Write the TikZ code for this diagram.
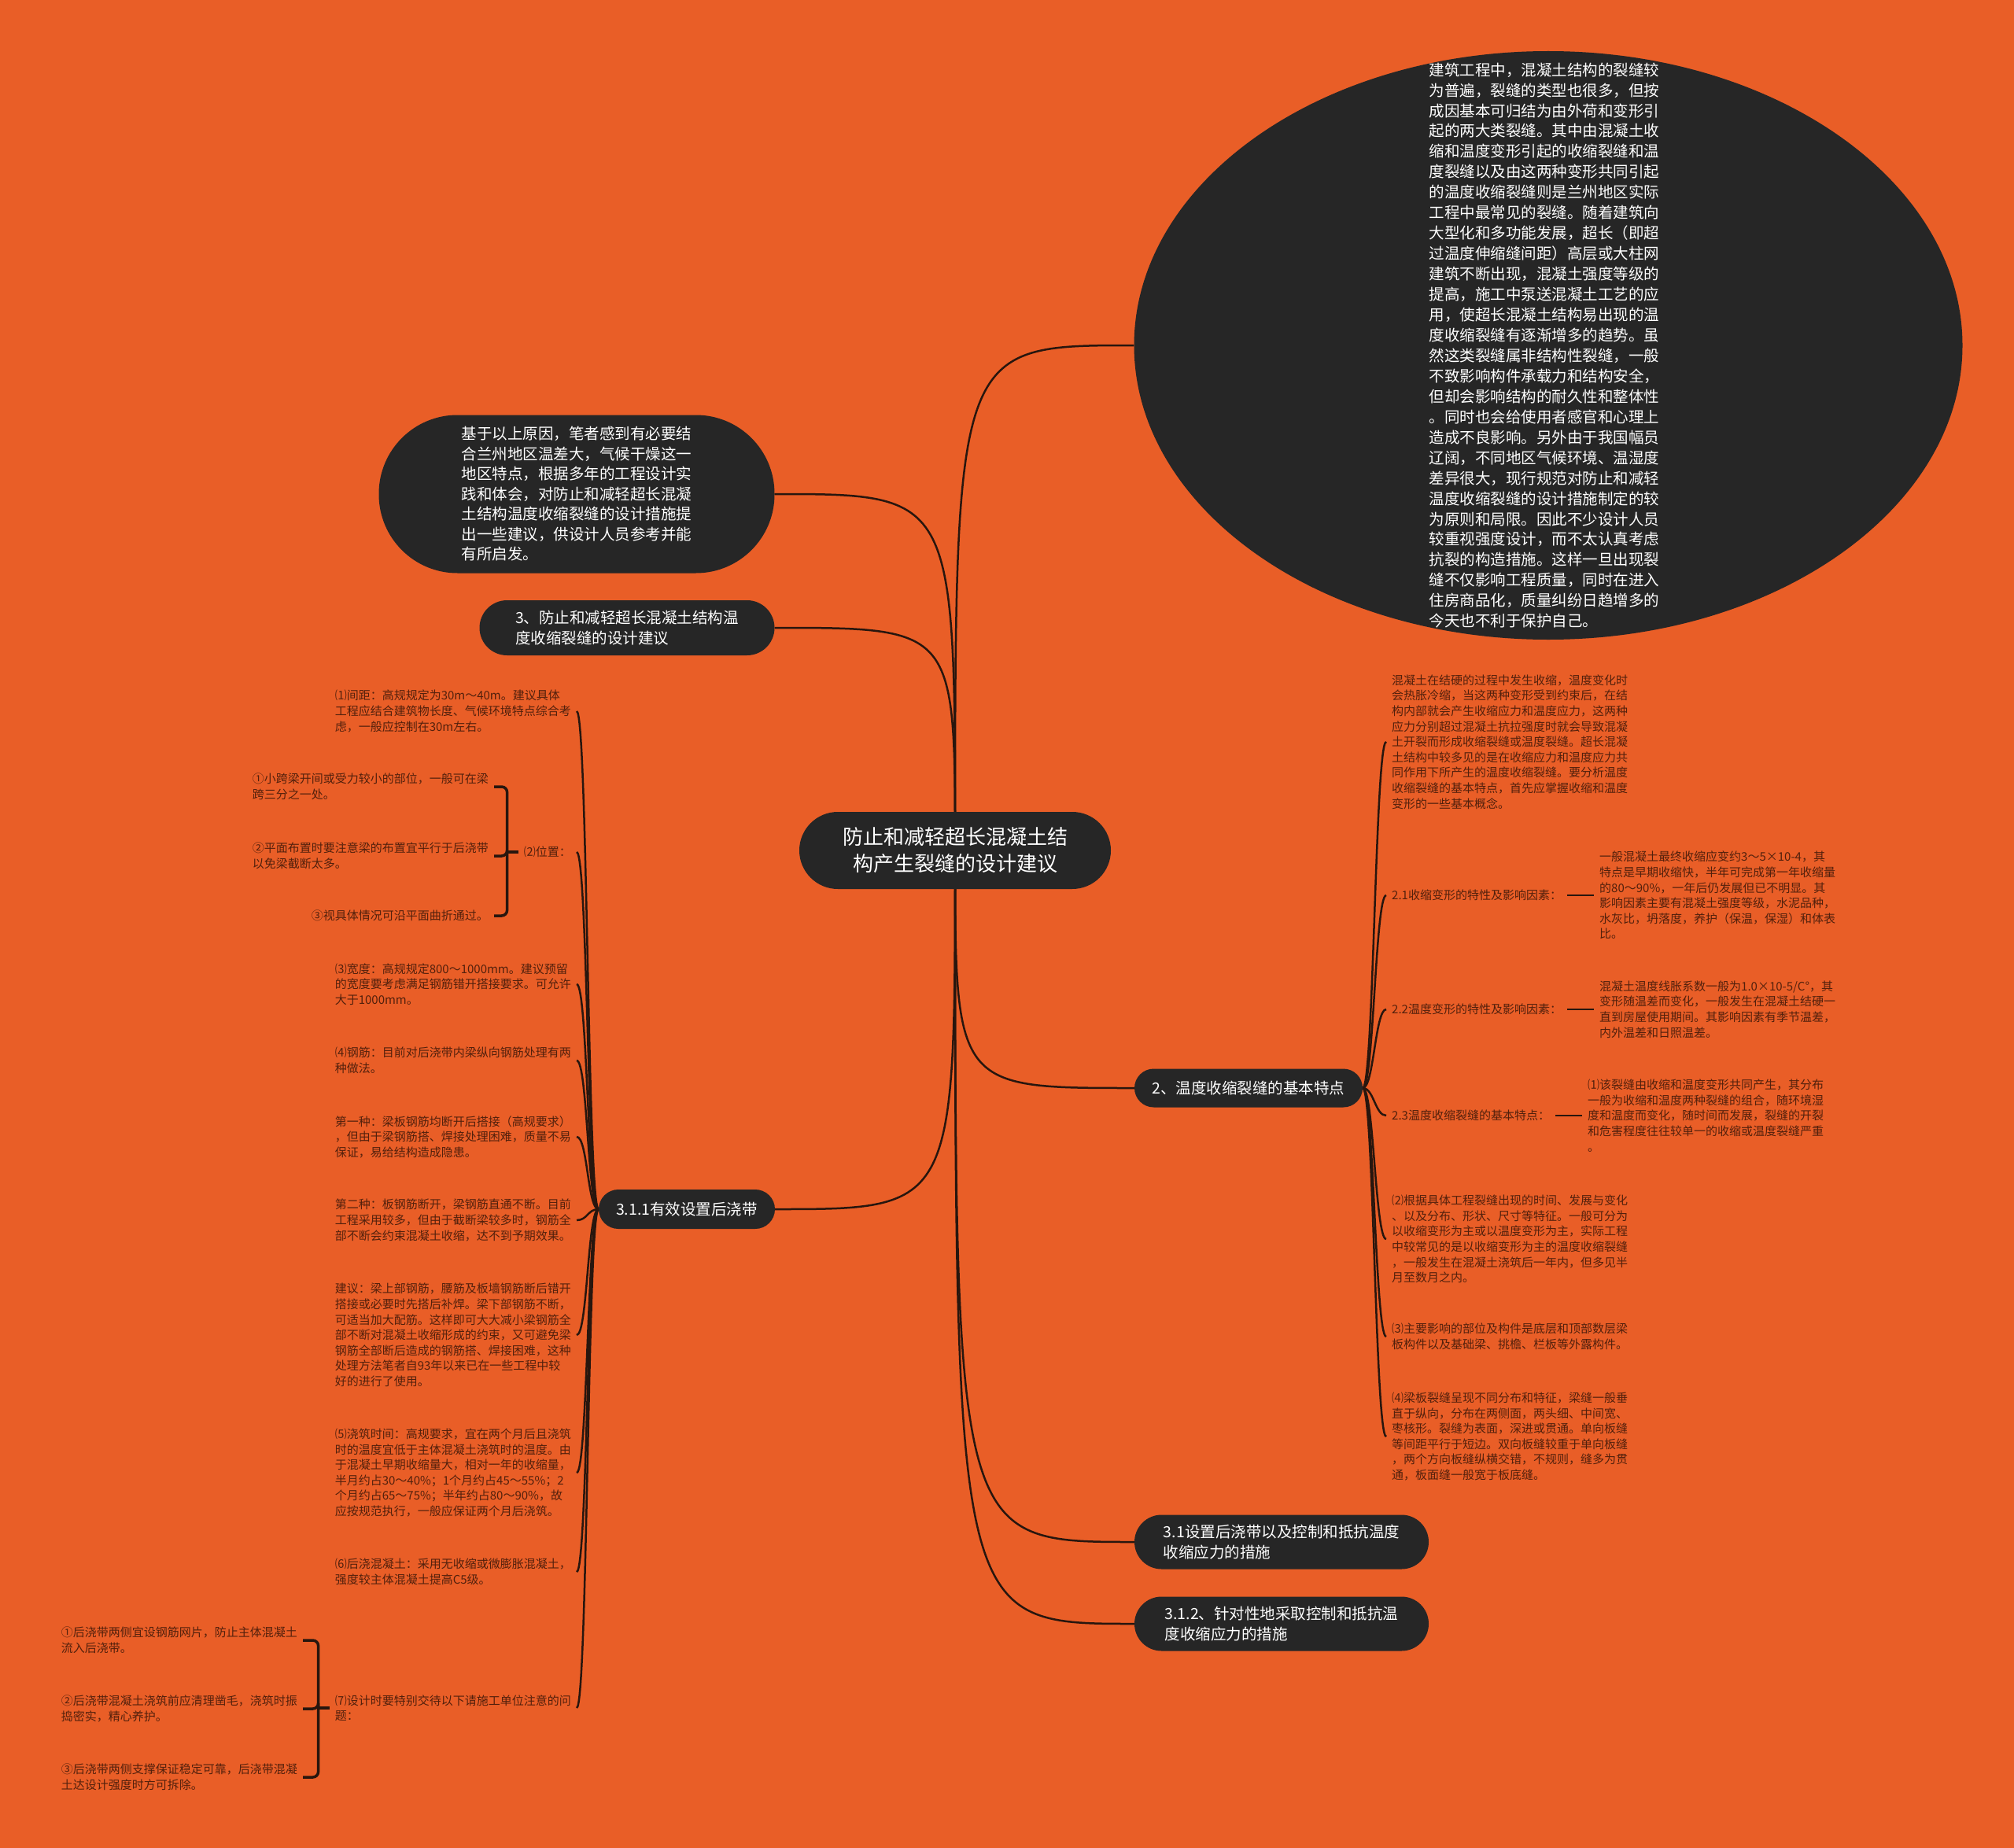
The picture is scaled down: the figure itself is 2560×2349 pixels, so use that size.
\documentclass[tikz,border=0pt]{standalone}
\usepackage{fontspec}
\setmainfont{Noto Sans CJK SC}
\usetikzlibrary{shapes.geometric,calc}
\definecolor{bgorange}{RGB}{233,94,39}
\definecolor{nodedark}{RGB}{38,38,38}
\definecolor{linedark}{RGB}{40,22,14}
\definecolor{txtbrown}{RGB}{82,32,12}
\pgfdeclarelayer{back}
\pgfdeclarelayer{links}
\pgfsetlayers{back,links,main}
\tikzset{
  pill/.style={fill=nodedark, text=white, font=\fontsize{19.5}{25.5}\selectfont, align=left, inner sep=0pt},
  pilltext/.style={text=white, font=\fontsize{19.5}{25.95}\selectfont, align=left, inner sep=0pt},
  central/.style={fill=nodedark, text=white, font=\fontsize{26}{34}\selectfont, align=center, inner sep=0pt, minimum width=396, minimum height=98, rounded corners=49},
  note/.style={text=txtbrown, font=\fontsize{15}{19.6}\selectfont, align=left, inner xsep=7pt, inner ysep=0pt},
  link/.style={draw=linedark, line width=2.5pt},
  brace/.style={draw=linedark, line width=3.5pt, rounded corners=7pt},
}
\begin{document}
\begin{tikzpicture}[x=1pt,y=-1pt]
\begin{pgfonlayer}{back}
\fill[bgorange] (0,0) rectangle (2560,2349);
\end{pgfonlayer}
\useasboundingbox (0,0) rectangle (2560,2349);

% central
\node[central] (root) at (1214,1081) {防止和减轻超长混凝土结\\构产生裂缝的设计建议};

% big ellipse
\node[ellipse, fill=nodedark, minimum width=1053, minimum height=748, inner sep=0pt] (intro) at (1968,439) {};
\node[pilltext] (introtext) at (1963,439) {建筑工程中，混凝土结构的裂缝较\\为普遍，裂缝的类型也很多，但按\\成因基本可归结为由外荷和变形引\\起的两大类裂缝。其中由混凝土收\\缩和温度变形引起的收缩裂缝和温\\度裂缝以及由这两种变形共同引起\\的温度收缩裂缝则是兰州地区实际\\工程中最常见的裂缝。随着建筑向\\大型化和多功能发展，超长（即超\\过温度伸缩缝间距）高层或大柱网\\建筑不断出现，混凝土强度等级的\\提高，施工中泵送混凝土工艺的应\\用，使超长混凝土结构易出现的温\\度收缩裂缝有逐渐增多的趋势。虽\\然这类裂缝属非结构性裂缝，一般\\不致影响构件承载力和结构安全，\\但却会影响结构的耐久性和整体性\\。同时也会给使用者感官和心理上\\造成不良影响。另外由于我国幅员\\辽阔，不同地区气候环境、温湿度\\差异很大，现行规范对防止和减轻\\温度收缩裂缝的设计措施制定的较\\为原则和局限。因此不少设计人员\\较重视强度设计，而不太认真考虑\\抗裂的构造措施。这样一旦出现裂\\缝不仅影响工程质量，同时在进入\\住房商品化，质量纠纷日趋增多的\\今天也不利于保护自己。};

% left pills
\node[pill, minimum width=503, minimum height=201, rounded corners=100] (reason) at (733,628) {基于以上原因，笔者感到有必要结\\合兰州地区温差大，气候干燥这一\\地区特点，根据多年的工程设计实\\践和体会，对防止和减轻超长混凝\\土结构温度收缩裂缝的设计措施提\\出一些建议，供设计人员参考并能\\有所启发。};
\node[pill, minimum width=375, minimum height=70, rounded corners=35] (sec3) at (797,798) {3、防止和减轻超长混凝土结构温\\度收缩裂缝的设计建议};
\node[pill, minimum width=224, minimum height=50, rounded corners=25] (s311) at (873,1537) {3.1.1有效设置后浇带};

% right pills
\node[pill, minimum width=290, minimum height=49, rounded corners=24.5] (s2) at (1587,1383) {2、温度收缩裂缝的基本特点};
\node[pill, minimum width=374, minimum height=69, rounded corners=34.5] (s31) at (1629,1960) {3.1设置后浇带以及控制和抵抗温度\\收缩应力的措施};
\node[pill, minimum width=374, minimum height=69, rounded corners=34.5] (s312) at (1629,2064) {3.1.2、针对性地采取控制和抵抗温\\度收缩应力的措施};

% right notes
\node[note, anchor=west] (n20) at (1762,943) {混凝土在结硬的过程中发生收缩，温度变化时\\会热胀冷缩，当这两种变形受到约束后，在结\\构内部就会产生收缩应力和温度应力，这两种\\应力分别超过混凝土抗拉强度时就会导致混凝\\土开裂而形成收缩裂缝或温度裂缝。超长混凝\\土结构中较多见的是在收缩应力和温度应力共\\同作用下所产生的温度收缩裂缝。要分析温度\\收缩裂缝的基本特点，首先应掌握收缩和温度\\变形的一些基本概念。};
\node[note, anchor=west] (n21) at (1762,1138) {2.1收缩变形的特性及影响因素：};
\node[note, anchor=west] (n21d) at (2026,1138) {一般混凝土最终收缩应变约3～5×10-4，其\\特点是早期收缩快，半年可完成第一年收缩量\\的80～90\%，一年后仍发展但已不明显。其\\影响因素主要有混凝土强度等级，水泥品种，\\水灰比，坍落度，养护（保温，保湿）和体表\\比。};
\node[note, anchor=west] (n22) at (1762,1283) {2.2温度变形的特性及影响因素：};
\node[note, anchor=west] (n22d) at (2026,1283) {混凝土温度线胀系数一般为1.0×10-5/C°，其\\变形随温差而变化，一般发生在混凝土结硬一\\直到房屋使用期间。其影响因素有季节温差，\\内外温差和日照温差。};
\node[note, anchor=west] (n23) at (1762,1418) {2.3温度收缩裂缝的基本特点：};
\node[note, anchor=west] (n23d) at (2011,1418) {⑴该裂缝由收缩和温度变形共同产生，其分布\\一般为收缩和温度两种裂缝的组合，随环境湿\\度和温度而变化，随时间而发展，裂缝的开裂\\和危害程度往往较单一的收缩或温度裂缝严重\\。};
\node[note, anchor=west] (n24) at (1762,1575) {⑵根据具体工程裂缝出现的时间、发展与变化\\、以及分布、形状、尺寸等特征。一般可分为\\以收缩变形为主或以温度变形为主，实际工程\\中较常见的是以收缩变形为主的温度收缩裂缝\\，一般发生在混凝土浇筑后一年内，但多见半\\月至数月之内。};
\node[note, anchor=west] (n25) at (1762,1699) {⑶主要影响的部位及构件是底层和顶部数层梁\\板构件以及基础梁、挑檐、栏板等外露构件。};
\node[note, anchor=west] (n26) at (1762,1826) {⑷梁板裂缝呈现不同分布和特征，梁缝一般垂\\直于纵向，分布在两侧面，两头细、中间宽、\\枣核形。裂缝为表面，深进或贯通。单向板缝\\等间距平行于短边。双向板缝较重于单向板缝\\，两个方向板缝纵横交错，不规则，缝多为贯\\通，板面缝一般宽于板底缝。};

% left notes
\node[note, anchor=east] (l1) at (733,904) {⑴间距：高规规定为30m～40m。建议具体\\工程应结合建筑物长度、气候环境特点综合考\\虑，一般应控制在30m左右。};
\node[note, anchor=east] (l2) at (733,1083) {⑵位置：};
\node[note, anchor=east] (p1) at (628,1000) {①小跨梁开间或受力较小的部位，一般可在梁\\跨三分之一处。};
\node[note, anchor=east] (p2) at (628,1088) {②平面布置时要注意梁的布置宜平行于后浇带\\以免梁截断太多。};
\node[note, anchor=east] (p3) at (628,1164) {③视具体情况可沿平面曲折通过。};
\node[note, anchor=east] (l3) at (733,1251) {⑶宽度：高规规定800～1000mm。建议预留\\的宽度要考虑满足钢筋错开搭接要求。可允许\\大于1000mm。};
\node[note, anchor=east] (l4) at (733,1348) {⑷钢筋：目前对后浇带内梁纵向钢筋处理有两\\种做法。};
\node[note, anchor=east] (l5) at (733,1445) {第一种：梁板钢筋均断开后搭接（高规要求）\\，但由于梁钢筋搭、焊接处理困难，质量不易\\保证，易给结构造成隐患。};
\node[note, anchor=east] (l6) at (733,1551) {第二种：板钢筋断开，梁钢筋直通不断。目前\\工程采用较多，但由于截断梁较多时，钢筋全\\部不断会约束混凝土收缩，达不到予期效果。};
\node[note, anchor=east] (l7) at (733,1697) {建议：梁上部钢筋，腰筋及板墙钢筋断后错开\\搭接或必要时先搭后补焊。梁下部钢筋不断，\\可适当加大配筋。这样即可大大减小梁钢筋全\\部不断对混凝土收缩形成的约束，又可避免梁\\钢筋全部断后造成的钢筋搭、焊接困难，这种\\处理方法笔者自93年以来已在一些工程中较\\好的进行了使用。};
\node[note, anchor=east] (l8) at (733,1872) {⑸浇筑时间：高规要求，宜在两个月后且浇筑\\时的温度宜低于主体混凝土浇筑时的温度。由\\于混凝土早期收缩量大，相对一年的收缩量，\\半月约占30～40\%；1个月约占45～55\%；2\\个月约占65～75\%；半年约占80～90\%，故\\应按规范执行，一般应保证两个月后浇筑。};
\node[note, anchor=east] (l9) at (733,1998) {⑹后浇混凝土：采用无收缩或微膨胀混凝土，\\强度较主体混凝土提高C5级。};
\node[note, anchor=east] (l10) at (733,2171) {⑺设计时要特别交待以下请施工单位注意的问\\题：};
\node[note, anchor=east] (q1) at (385,2085) {①后浇带两侧宜设钢筋网片，防止主体混凝土\\流入后浇带。};
\node[note, anchor=east] (q2) at (385,2172) {②后浇带混凝土浇筑前应清理凿毛，浇筑时振\\捣密实，精心养护。};
\node[note, anchor=east] (q3) at (385,2259) {③后浇带两侧支撑保证稳定可靠，后浇带混凝\\土达设计强度时方可拆除。};

\begin{pgfonlayer}{links}
% from root
\foreach \t in {intro.west, s2.west, s31.west, s312.west, reason.east, sec3.east, s311.east}{
  \draw[link] (root.center) .. controls (root.center |- \t) .. (\t);
}
% right children of s2
\foreach \c in {n20,n21,n22,n23,n24,n25,n26}{
  \draw[link] (s2.east) .. controls ($(s2.east)+(14,0)$) and ($(\c.west)+(-14,0)$) .. (\c.west);
}
\draw[link] (n21.east) -- (n21d.west);
\draw[link] (n22.east) -- (n22d.west);
\draw[link] (n23.east) -- (n23d.west);
% left children of s311
\foreach \c in {l1,l2,l3,l4,l5,l6,l7,l8,l9,l10}{
  \draw[link] (s311.west) .. controls ($(s311.west)+(-14,0)$) and ($(\c.east)+(14,0)$) .. (\c.east);
}
% bracket for (2)
\draw[brace] (l2.west) -- ++(-14,0) coordinate (b2);
\draw[brace] (b2) |- (p1.east);
\draw[brace] (b2) |- (p2.east);
\draw[brace] (b2) |- (p3.east);
% bracket for (7)
\draw[brace] (l10.west) -- ++(-14,0) coordinate (b7);
\draw[brace] (b7) |- (q1.east);
\draw[brace] (b7) |- (q2.east);
\draw[brace] (b7) |- (q3.east);
\end{pgfonlayer}
\end{tikzpicture}
\end{document}
